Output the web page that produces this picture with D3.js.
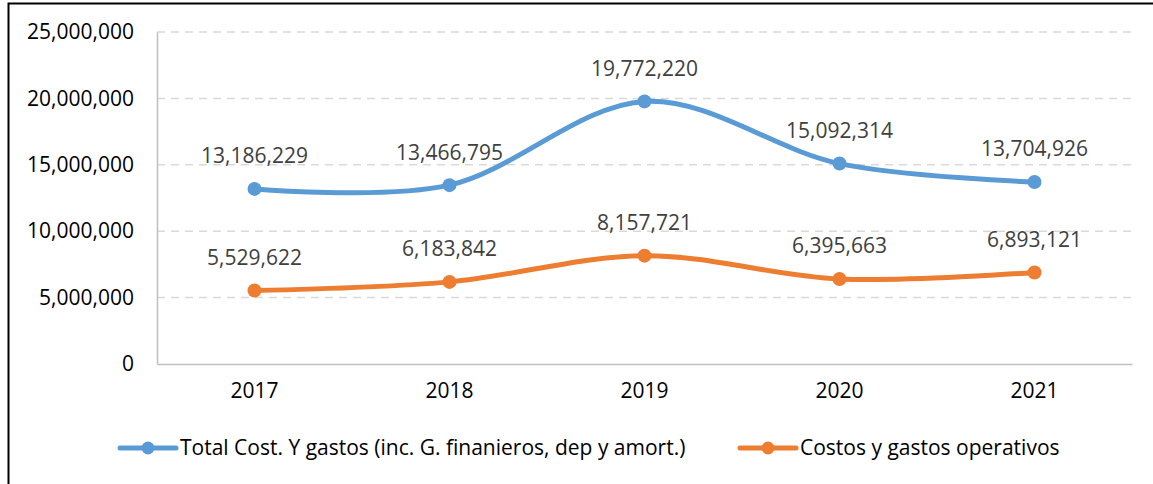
<!DOCTYPE html>
<html>
<head>
<meta charset="utf-8">
<script src="https://cdn.jsdelivr.net/npm/d3@7"></script>
<style>
  body { margin: 0; background: #fff; }
  svg { display: block; font-family: "Open Sans", sans-serif; }
</style>
</head>
<body>
<div id="chart"></div>
<script>
// chart data
var years = ["2017", "2018", "2019", "2020", "2021"];
var totalCost = [13186229, 13466795, 19772220, 15092314, 13704926];
var operCost = [5529622, 6183842, 8157721, 6395663, 6893121];
var yTicks = [0, 5000000, 10000000, 15000000, 20000000, 25000000];
var seriesNames = ["Total Cost. Y gastos (inc. G. finanieros, dep y amort.)", "Costos y gastos operativos"];
var colors = ["#5b9bd5", "#ed7d31"];

var W = 1153, H = 484;
var margin = {top: 32, right: 21, bottom: 120, left: 157};
var width = W - margin.left - margin.right,
    height = H - margin.top - margin.bottom;

var svg = d3.select("#chart").append("svg")
    .attr("width", W)
    .attr("height", H);

// outer frame
svg.append("rect")
    .attr("x", 8.5).attr("y", 3.5)
    .attr("width", W + 20).attr("height", H + 20)
    .attr("fill", "none")
    .attr("stroke", "#000")
    .attr("stroke-width", 2);

var g = svg.append("g")
    .attr("transform", "translate(" + margin.left + "," + margin.top + ")");

var x = d3.scaleBand().domain(years).range([0, width]);
var y = d3.scaleLinear().domain([0, 25000000]).range([height, 0]);
var fmt = d3.format(",");

// gridlines
g.selectAll(".grid")
  .data(yTicks.slice(1))
  .enter().append("line")
    .attr("x1", 0).attr("x2", width)
    .attr("y1", function(d) { return y(d); })
    .attr("y2", function(d) { return y(d); })
    .attr("stroke", "#d9d9d9")
    .attr("stroke-width", 1.5)
    .attr("stroke-dasharray", "8,6");

// y axis
var yAxis = g.append("g")
    .call(d3.axisLeft(y).tickValues(yTicks).tickFormat(function(d) { return d === 0 ? "0" : fmt(d); }).tickSize(0).tickPadding(23));
yAxis.select(".domain").attr("stroke", "#bfbfbf").attr("stroke-width", 1.5);
yAxis.selectAll("text").attr("font-size", 21).attr("fill", "#000").attr("font-family", "Open Sans");

// x axis
var xAxis = g.append("g")
    .attr("transform", "translate(0," + height + ")")
    .call(d3.axisBottom(x).tickSize(0).tickPadding(19));
xAxis.select(".domain").attr("stroke", "#bfbfbf").attr("stroke-width", 1.5);
xAxis.selectAll("text").attr("font-size", 21).attr("fill", "#000").attr("font-family", "Open Sans");

var cx = function(i) { return x(years[i]) + x.bandwidth() / 2; };

var line = d3.line()
    .x(function(d, i) { return cx(i); })
    .y(function(d) { return y(d); })
    .curve(d3.curveCatmullRom.alpha(0));

[totalCost, operCost].forEach(function(vals, s) {
    g.append("path")
      .datum(vals)
      .attr("fill", "none")
      .attr("stroke", colors[s])
      .attr("stroke-width", 5)
      .attr("stroke-linecap", "round")
      .attr("d", line);

    g.selectAll(".pt" + s)
      .data(vals)
      .enter().append("circle")
        .attr("cx", function(d, i) { return cx(i); })
        .attr("cy", function(d) { return y(d); })
        .attr("r", 7)
        .attr("fill", colors[s]);

    g.selectAll(".lbl" + s)
      .data(vals)
      .enter().append("text")
        .attr("x", function(d, i) { return cx(i); })
        .attr("y", function(d) { return y(d) - 33; })
        .attr("dy", "0.35em")
        .attr("text-anchor", "middle")
        .attr("font-size", 21)
        .attr("fill", "#404040")
        .text(function(d) { return fmt(d); });
});

// legend
var legendX = [120, 740];
seriesNames.forEach(function(name, s) {
    var lg = svg.append("g").attr("transform", "translate(" + legendX[s] + ",448)");
    lg.append("line")
      .attr("x1", 0).attr("x2", 56)
      .attr("y1", 0).attr("y2", 0)
      .attr("stroke", colors[s])
      .attr("stroke-width", 5)
      .attr("stroke-linecap", "round");
    lg.append("circle")
      .attr("cx", 28).attr("cy", 0).attr("r", 6.5)
      .attr("fill", colors[s]);
    lg.append("text")
      .attr("x", 60).attr("y", 0)
      .attr("dy", "0.35em")
      .attr("font-size", 21)
      .attr("fill", "#000")
      .text(name);
});
</script>
</body>
</html>
